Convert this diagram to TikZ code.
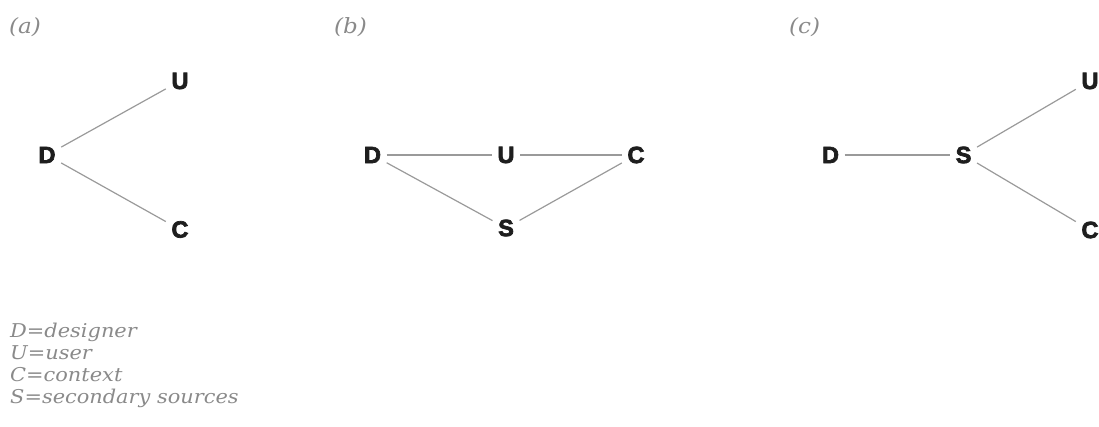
\documentclass[tikz,border=0pt]{standalone}
\usepackage{fontspec}
\setmainfont{DejaVu Serif}
\newfontfamily\letterfont[BoldFeatures={FakeBold=3}]{Liberation Sans}
\newfontfamily\legendfont[FakeStretch=1.1]{DejaVu Serif}
\definecolor{linegray}{HTML}{9A9A9A}
\definecolor{textgray}{HTML}{8A8A8A}
\definecolor{letterblack}{HTML}{1E1E1E}
\tikzset{
  ltr/.style={font=\letterfont\bfseries\fontsize{23.5}{23.5}\selectfont, text=letterblack, inner sep=5.5pt},
  conn/.style={draw=linegray, line width=1.2pt},
  panel/.style={font=\legendfont\itshape\fontsize{21}{21}\selectfont, text=textgray, anchor=west, inner sep=0pt},
  legend/.style={font=\legendfont\itshape\fontsize{19}{19}\selectfont, text=textgray, anchor=base west, inner sep=0pt}
}
\begin{document}
\begin{tikzpicture}[x=1pt,y=-1pt]
\useasboundingbox (0,0) rectangle (1099,426);
% panel labels
\node[panel] (la) at (9,27) {(a)};
\node[panel] (lb) at (334,27) {(b)};
\node[panel] (lc) at (789,27) {(c)};
% (a)
\node[ltr] (aD) at (47,155) {D};
\node[ltr] (aU) at (180,81) {U};
\node[ltr] (aC) at (180,229.5) {C};
\draw[conn] (aD) -- (aU);
\draw[conn] (aD) -- (aC);
% (b)
\node[ltr] (bD) at (372.5,155) {D};
\node[ltr] (bU) at (506,155) {U};
\node[ltr] (bC) at (636,155) {C};
\node[ltr] (bS) at (506,228) {S};
\draw[conn] (bD) -- (bU);
\draw[conn] (bU) -- (bC);
\draw[conn] (bD) -- (bS);
\draw[conn] (bS) -- (bC);
% (c)
\node[ltr] (cD) at (830.5,155) {D};
\node[ltr] (cS) at (963.5,155) {S};
\node[ltr] (cU) at (1090,81) {U};
\node[ltr] (cC) at (1090,230) {C};
\draw[conn] (cD) -- (cS);
\draw[conn] (cS) -- (cU);
\draw[conn] (cS) -- (cC);
% legend
\node[legend] (l1) at (10,337) {D=designer};
\node[legend] (l2) at (10,359) {U=user};
\node[legend] (l3) at (10,381) {C=context};
\node[legend] (l4) at (10,403) {S=secondary sources};
\end{tikzpicture}
\end{document}
